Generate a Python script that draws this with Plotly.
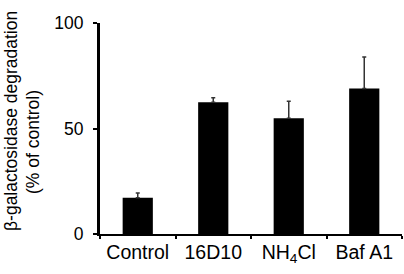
import plotly.graph_objects as go

categories = ["Control", "16D10", "NH<sub>4</sub>Cl", "Baf A1"]
values = [17.2, 62.4, 54.8, 69.0]
errors = [2.2, 2.2, 8.1, 14.9]
y_ticks = [0, 50, 100]

fig = go.Figure()
fig.add_trace(go.Bar(
    x=categories, y=values,
    marker=dict(color="black", line=dict(width=0)),
    error_y=dict(type="data", array=errors, symmetric=False, arrayminus=[0]*4,
                 color="#333333", thickness=1.5, width=2),
    width=0.4,
))

font = "Liberation Sans, Arial, Helvetica, sans-serif"
fig.update_layout(
    template="none",
    width=404, height=274,
    margin=dict(l=100, r=2, t=23, b=40, pad=0),
    paper_bgcolor="white", plot_bgcolor="white",
    showlegend=False,
    font=dict(family=font, size=18, color="black"),
    xaxis=dict(
        type="category", range=[-0.5, 3.5], automargin=False,
        showline=True, linecolor="black", linewidth=2,
        ticks="outside", tickson="boundaries", ticklen=3, tickwidth=2, tickcolor="black",
        tickfont=dict(size=19.5), showgrid=False, zeroline=False,
    ),
    yaxis=dict(
        range=[0, 100], tickvals=y_ticks, automargin=False,
        showline=True, linecolor="black", linewidth=3,
        ticks="outside", ticklen=4, tickwidth=2, tickcolor="black",
        ticklabelstandoff=6,
        tickfont=dict(size=17.5), showgrid=False, zeroline=False,
    ),
    annotations=[
        dict(text="β-galactosidase degradation", xref="paper", yref="paper",
             x=(11-100)/302, y=(234-121)/211, textangle=-90, showarrow=False,
             xanchor="center", yanchor="middle", font=dict(size=17.5)),
        dict(text="(% of control)", xref="paper", yref="paper",
             x=(33-100)/302, y=(234-142)/211, textangle=-90, showarrow=False,
             xanchor="center", yanchor="middle", font=dict(size=17.5)),
    ],
)

# remove the page's default 8px body margin so the figure sits at the corner
fig.write_html("out.html", config={"displayModeBar": False},
               post_script="document.body.style.margin='0';")
